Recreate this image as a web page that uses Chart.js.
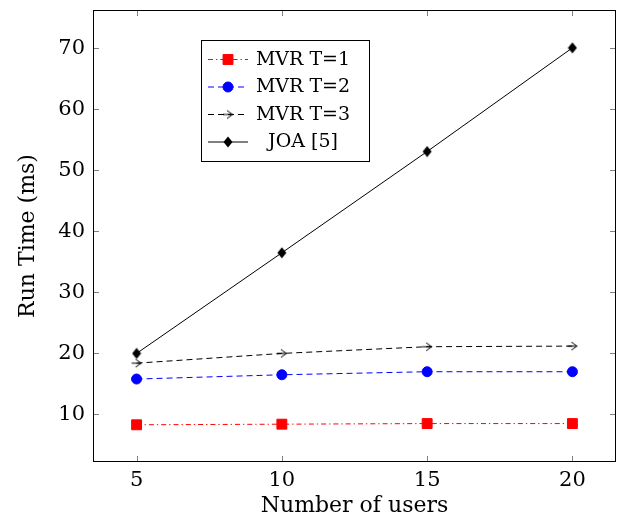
<!DOCTYPE html>
<html>
<head>
<meta charset="utf-8">
<script src="https://cdn.jsdelivr.net/npm/chart.js@4.4.1/dist/chart.umd.min.js"></script>
<style>
  html, body { margin: 0; padding: 0; background: #fff; }
  #chart { display: block; }
</style>
</head>
<body>
<canvas id="chart" width="618" height="525"></canvas>
<script>
// data
const users = [5, 10, 15, 20];
const mvrT1 = [8.3, 8.4, 8.5, 8.5];
const mvrT2 = [15.8, 16.5, 17.0, 17.0];
const mvrT3 = [18.4, 20.0, 21.1, 21.2];
const joa = [20.0, 36.5, 53.1, 70.1];

const xTicks = [5, 10, 15, 20];
const yTicks = [10, 20, 30, 40, 50, 60, 70];

const serif = "'DejaVu Serif', 'Liberation Serif', serif";

// custom markers: pgf style "->" arrow and tall diamond
function arrowMark() {
  const c = document.createElement('canvas');
  c.width = 12; c.height = 12;
  const g = c.getContext('2d');
  g.strokeStyle = '#000';
  g.lineWidth = 1;
  g.beginPath();
  g.moveTo(1, 6); g.lineTo(10.5, 6);
  g.moveTo(5, 2); g.lineTo(10.5, 6); g.lineTo(5, 10);
  g.stroke();
  return c;
}

function diamondMark() {
  const c = document.createElement('canvas');
  c.width = 10; c.height = 12;
  const g = c.getContext('2d');
  g.fillStyle = '#000';
  g.beginPath();
  g.moveTo(5, 0.5); g.lineTo(9.5, 6); g.lineTo(5, 11.5); g.lineTo(0.5, 6);
  g.closePath();
  g.fill();
  return c;
}

const toPts = arr => users.map((u, i) => ({ x: u, y: arr[i] }));

// stretch the plot area to the right edge like the pgfplots figure
const fixArea = {
  id: 'fixArea',
  afterLayout(chart) {
    const right = chart.width - 2;
    const x = chart.scales.x;
    chart.chartArea.right = right;
    x.right = right;
    x.width = right - x.left;
    x.configure();
  }
};

// frame, inward ticks and the boxed legend, like pgfplots
const pgfFrame = {
  id: 'pgfFrame',
  afterDraw(chart) {
    const { ctx, chartArea: a, scales } = chart;
    ctx.save();
    ctx.strokeStyle = '#808080';
    ctx.lineWidth = 1;
    ctx.beginPath();
    xTicks.forEach(v => {
      const px = Math.round(scales.x.getPixelForValue(v)) + 0.5;
      ctx.moveTo(px, a.bottom); ctx.lineTo(px, a.bottom - 6);
      ctx.moveTo(px, a.top); ctx.lineTo(px, a.top + 6);
    });
    yTicks.forEach(v => {
      const py = Math.round(scales.y.getPixelForValue(v)) + 0.5;
      ctx.moveTo(a.left, py); ctx.lineTo(a.left + 6, py);
      ctx.moveTo(a.right, py); ctx.lineTo(a.right - 6, py);
    });
    ctx.stroke();

    ctx.strokeStyle = '#000';
    ctx.strokeRect(Math.round(a.left) + 0.5, Math.round(a.top) + 0.5,
      Math.round(a.right - a.left) - 1, Math.round(a.bottom - a.top) - 1);

    // legend
    const lx = 201, ly = 40, lw = 168, lh = 121;
    ctx.fillStyle = '#fff';
    ctx.fillRect(lx, ly, lw, lh);
    ctx.strokeStyle = '#000';
    ctx.strokeRect(lx + 0.5, ly + 0.5, lw, lh);
    ctx.font = '19px ' + serif;
    ctx.textBaseline = 'middle';
    chart.data.datasets.forEach((ds, i) => {
      const y = ly + 19 + i * 27.5;
      ctx.save();
      ctx.strokeStyle = ds.borderColor;
      ctx.lineWidth = 1;
      ctx.setLineDash(ds.borderDash || []);
      ctx.beginPath();
      ctx.moveTo(lx + 7, y + 0.5); ctx.lineTo(lx + 47, y + 0.5);
      ctx.stroke();
      ctx.restore();
      ctx.fillStyle = ds.pointBackgroundColor;
      ctx.strokeStyle = ds.pointBorderColor;
      ctx.lineWidth = 1;
      Chart.helpers.drawPoint(ctx, {
        pointStyle: ds.pointStyle, radius: ds.pointRadius, rotation: 0,
        borderWidth: 1
      }, lx + 27, y + 0.5);
      ctx.fillStyle = '#000';
      ctx.textAlign = 'center';
      ctx.fillText(ds.label, lx + 102, y + 1);
    });
    ctx.restore();
  }
};

new Chart(document.getElementById('chart'), {
  type: 'line',
  data: {
    datasets: [
      {
        label: 'MVR T=1', data: toPts(mvrT1),
        borderColor: '#ff0000', borderWidth: 1, borderDash: [5, 3, 1.3, 3],
        pointStyle: 'rect', pointRadius: 7, pointBackgroundColor: '#ff0000', pointBorderColor: '#ff0000'
      },
      {
        label: 'MVR T=2', data: toPts(mvrT2),
        borderColor: '#0000ff', borderWidth: 1, borderDash: [6, 4],
        pointStyle: 'circle', pointRadius: 5, pointBackgroundColor: '#0000ff', pointBorderColor: '#0000ff'
      },
      {
        label: 'MVR T=3', data: toPts(mvrT3),
        borderColor: '#000000', borderWidth: 1, borderDash: [6, 4],
        pointStyle: arrowMark(), pointRadius: 5, pointBackgroundColor: '#000', pointBorderColor: '#000'
      },
      {
        label: 'JOA [5]', data: toPts(joa),
        borderColor: '#000000', borderWidth: 1,
        pointStyle: diamondMark(), pointRadius: 5, pointBackgroundColor: '#000', pointBorderColor: '#000'
      }
    ]
  },
  options: {
    responsive: false,
    animation: false,
    devicePixelRatio: 1,
    layout: { padding: { top: 10, right: 2, left: 0, bottom: 0 } },
    plugins: { legend: { display: false }, tooltip: { enabled: false } },
    elements: { line: { tension: 0 } },
    scales: {
      x: {
        type: 'linear', min: 3.5, max: 21.5,
        afterBuildTicks: s => { s.ticks = xTicks.map(v => ({ value: v })); },
        afterFit: s => { s.height = 63; s.paddingLeft = 0; s.paddingRight = 0; },
        grid: { display: false, drawTicks: false },
        border: { display: false },
        ticks: { color: '#000', padding: 6, font: { family: serif, size: 21 } },
        title: { display: true, text: 'Number of users', color: '#000', padding: { top: 0, bottom: 6 },
          font: { family: serif, size: 22 } }
      },
      y: {
        type: 'linear', min: 2.2, max: 76.3,
        afterBuildTicks: s => { s.ticks = yTicks.map(v => ({ value: v })); },
        afterFit: s => { s.width = 93; s.paddingTop = 0; s.paddingBottom = 0; },
        grid: { display: false, drawTicks: false },
        border: { display: false },
        ticks: { color: '#000', padding: 8, font: { family: serif, size: 21 } },
        title: { display: true, text: 'Run Time (ms)', color: '#000', padding: { top: 15, bottom: 0 },
          font: { family: serif, size: 22 } }
      }
    }
  },
  plugins: [fixArea, pgfFrame]
});
</script>
</body>
</html>
